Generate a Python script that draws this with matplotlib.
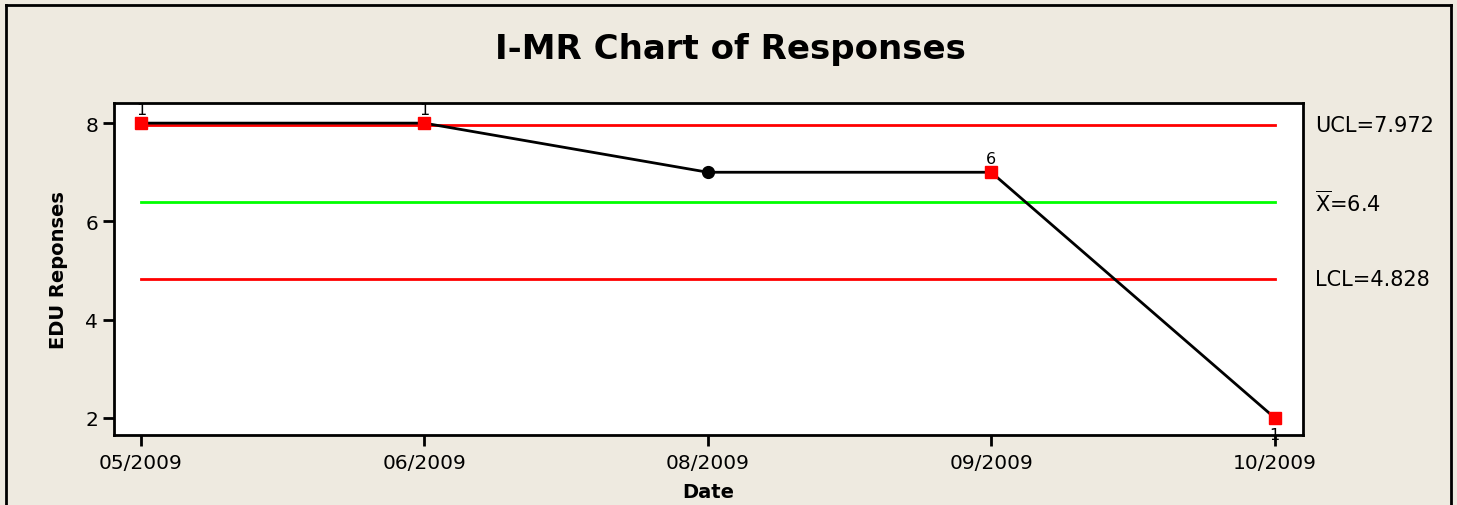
import matplotlib.pyplot as plt
from matplotlib.lines import Line2D

# data
dates = ['05/2009', '06/2009', '08/2009', '09/2009', '10/2009']
responses = [8, 8, 7, 7, 2]
flagged = [True, True, False, True, True]
flag_labels = ['1', '1', '', '6', '1']
ucl = 7.972
mean = 6.4
lcl = 4.828

bg = '#EEEAE0'
plt.rcParams['font.family'] = ['DejaVu Sans']

fig = plt.figure(figsize=(14.57, 5.06), dpi=100, facecolor=bg)
ax = fig.add_axes([114/1457, 1-436/506, (1303-114)/1457, (436-104)/506])
ax.set_facecolor('white')

x = list(range(len(dates)))

# control limits
ax.plot([x[0], x[-1]], [ucl, ucl], color='#FF0000', lw=2, zorder=2)
ax.plot([x[0], x[-1]], [lcl, lcl], color='#FF0000', lw=2, zorder=2)
ax.plot([x[0], x[-1]], [mean, mean], color='#00FF00', lw=2, zorder=2)

ax.plot(x, responses, color='black', lw=2, zorder=3)
for xi, yi, f, lab in zip(x, responses, flagged, flag_labels):
    if f:
        ax.plot(xi, yi, marker='s', ms=9, color='#FF0000', mec='#FF0000', zorder=4)
    else:
        ax.plot(xi, yi, marker='o', ms=8.5, color='black', zorder=4)
    if lab:
        if yi < mean:
            ax.text(xi, yi - 0.18, lab, ha='center', va='top', fontsize=11.5, zorder=5)
        else:
            ax.text(xi, yi + 0.13, lab, ha='center', va='bottom', fontsize=11.5, zorder=5, clip_on=True)

ax.set_xlim(-0.095, 4.10)
ax.set_ylim(1.65, 8.41)
ax.set_xticks(x)
ax.set_xticklabels(dates)
ax.set_yticks([2, 4, 6, 8])
ax.tick_params(axis='both', labelsize=14.5, length=8, width=2, direction='out')
ax.tick_params(axis='x', pad=5)
for s in ax.spines.values():
    s.set_linewidth(2)

ax.set_xlabel('Date', fontsize=14, fontweight='bold', labelpad=7)
ax.set_ylabel('EDU Reponses', fontsize=14, fontweight='bold', labelpad=12)

# limit labels on the right
ax.text(1.01, ucl, 'UCL=7.972', transform=ax.get_yaxis_transform(), va='center', fontsize=15)
ax.text(1.01, mean, r'$\overline{\mathrm{X}}$=6.4', transform=ax.get_yaxis_transform(), va='center', fontsize=15)
ax.text(1.01, lcl, 'LCL=4.828', transform=ax.get_yaxis_transform(), va='center', fontsize=15)

fig.suptitle('I-MR Chart of Responses', x=730/1457, y=1-50/506, va='center', fontsize=24.5, fontweight='bold')

# outer frame
fx0, fx1, fy = 6/1457, 1451/1457, 1-6/506
fig.add_artist(Line2D([fx0, fx1], [fy, fy], color='black', lw=2))
fig.add_artist(Line2D([fx0, fx0], [0, fy], color='black', lw=2))
fig.add_artist(Line2D([fx1, fx1], [0, fy], color='black', lw=2))

fig.savefig('out.png', dpi=100, facecolor=bg)
